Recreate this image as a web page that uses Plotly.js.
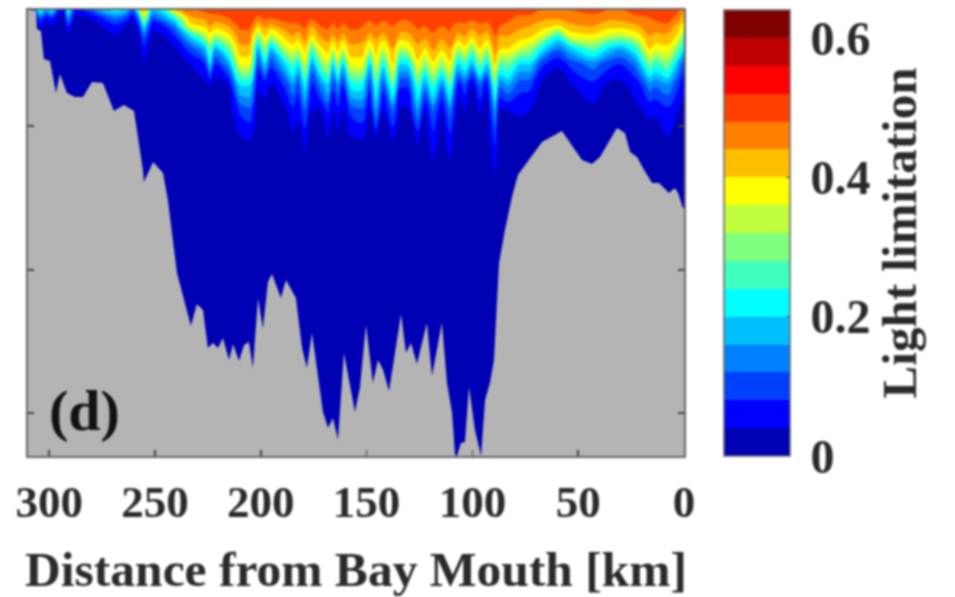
<!DOCTYPE html>
<html>
<head>
<meta charset="utf-8">
<script src="https://cdn.plot.ly/plotly-3.0.1.min.js"></script>
<style>
html,body{margin:0;padding:0;background:#fff}
#chart{width:955px;height:597px;filter:blur(0.8px)}
</style>
</head>
<body>
<div id="chart"></div>
<script>
// Along-channel distance of each station (km from the bay mouth)
const stationKm = [310,306.2,304.3,301.5,298.7,294.9,293,291.1,287.8,280.7,276,268.9,264.2,260.4,258,255.2,251.4,246.2,240.5,233.5,226.4,224,221.6,215.5,209.8,205.1,201.3,198,195.2,188.6,184.8,182.4,179.1,175.8,172,168.2,165.9,163.5,161.2,157.8,154.5,151.7,148.4,145.6,142.2,137.5,134.2,130.4,125.7,122.4,118.6,114.4,110.6,106.8,103.5,100.2,96.4,93.1,89.3,87,83.2,77.5,72.8,67.1,59.5,53.9,43,36.4,30.2,23.2,20.8,16.1,13.7,7.6,2.8,0];
// Depth levels of the profile values (relative depth units; the axis has no labels)
const depthLevels = [0,8,16,26,38,54,74,100,130,170];
// Light limitation profile at each station, surface to depth
const profiles = [
[.05,.03,.02,.01,.01,.005,.005,.005,.005,.005],
[.12,.03,.02,.01,.01,.005,.005,.005,.005,.005],
[.24,.12,.05,.02,.01,.005,.005,.005,.005,.005],
[.17,.05,.03,.01,.01,.005,.005,.005,.005,.005],
[.22,.09,.04,.02,.01,.005,.005,.005,.005,.005],
[.05,.02,.01,.01,.01,.005,.005,.005,.005,.005],
[.05,.03,.01,.01,.01,.005,.005,.005,.005,.005],
[.26,.16,.08,.03,.01,.005,.005,.005,.005,.005],
[.06,.03,.01,.01,.01,.005,.005,.005,.005,.005],
[.1,.04,.02,.01,.01,.005,.005,.005,.005,.005],
[.17,.07,.035,.015,.01,.005,.005,.005,.005,.005],
[.22,.13,.07,.035,.01,.005,.005,.005,.005,.005],
[.2,.1,.04,.02,.01,.005,.005,.005,.005,.005],
[.12,.05,.02,.01,.01,.005,.005,.005,.005,.005],
[.25,.12,.06,.03,.01,.005,.005,.005,.005,.005],
[.44,.36,.22,.12,.07,.04,.01,.005,.005,.005],
[.18,.1,.05,.03,.01,.005,.005,.005,.005,.005],
[.22,.15,.07,.035,.01,.005,.005,.005,.005,.005],
[.42,.24,.14,.08,.04,.01,.005,.005,.005,.005],
[.47,.43,.38,.2,.1,.04,.015,.005,.005,.005],
[.49,.45,.41,.33,.18,.08,.03,.01,.005,.005],
[.49,.47,.44,.38,.3,.2,.045,.015,.005,.005],
[.5,.46,.42,.33,.17,.07,.025,.01,.005,.005],
[.5,.48,.44,.38,.28,.15,.04,.015,.005,.005],
[.515,.505,.49,.46,.43,.37,.21,.09,.03,.01],
[.515,.505,.49,.46,.43,.37,.21,.11,.04,.015],
[.5,.47,.41,.3,.17,.09,.045,.02,.01,.005],
[.505,.49,.45,.4,.34,.2,.06,.025,.01,.005],
[.505,.48,.43,.34,.18,.09,.04,.02,.01,.005],
[.515,.5,.46,.41,.35,.2,.09,.03,.01,.005],
[.515,.5,.47,.44,.38,.27,.16,.07,.03,.01],
[.515,.5,.47,.42,.35,.21,.1,.05,.02,.01],
[.515,.505,.49,.46,.42,.36,.23,.12,.05,.02],
[.515,.49,.44,.39,.28,.15,.07,.04,.02,.01],
[.515,.5,.48,.44,.39,.28,.14,.04,.02,.01],
[.515,.505,.49,.46,.42,.35,.21,.09,.035,.015],
[.515,.5,.47,.43,.36,.2,.09,.04,.02,.01],
[.515,.505,.49,.46,.42,.34,.16,.07,.03,.01],
[.515,.5,.47,.43,.35,.19,.08,.035,.015,.005],
[.515,.505,.49,.46,.43,.37,.22,.09,.03,.01],
[.515,.505,.49,.46,.43,.38,.24,.11,.035,.01],
[.515,.5,.48,.46,.42,.38,.22,.11,.04,.015],
[.515,.49,.46,.43,.35,.19,.09,.04,.02,.01],
[.515,.5,.48,.45,.42,.38,.27,.16,.035,.01],
[.515,.49,.46,.43,.35,.22,.1,.035,.015,.005],
[.515,.5,.48,.46,.44,.41,.29,.13,.04,.015],
[.515,.49,.46,.43,.34,.2,.09,.03,.015,.005],
[.515,.49,.46,.43,.37,.21,.09,.035,.015,.005],
[.515,.505,.49,.46,.43,.39,.27,.16,.045,.015],
[.515,.5,.48,.45,.4,.3,.15,.04,.02,.01],
[.515,.505,.5,.47,.45,.39,.27,.13,.06,.02],
[.515,.5,.48,.45,.41,.31,.14,.04,.02,.01],
[.515,.505,.49,.47,.44,.39,.28,.14,.06,.02],
[.515,.5,.46,.43,.34,.2,.06,.02,.01,.005],
[.515,.5,.47,.44,.39,.26,.11,.04,.02,.01],
[.515,.49,.45,.41,.3,.17,.04,.02,.01,.005],
[.515,.5,.47,.44,.4,.3,.13,.045,.02,.01],
[.515,.5,.46,.42,.34,.2,.05,.02,.01,.005],
[.515,.505,.5,.48,.46,.41,.29,.16,.09,.03],
[.515,.5,.48,.44,.41,.28,.13,.03,.015,.005],
[.505,.49,.47,.44,.4,.29,.17,.04,.02,.01],
[.5,.47,.45,.42,.36,.2,.1,.045,.02,.01],
[.5,.47,.44,.41,.33,.2,.095,.04,.015,.005],
[.47,.45,.42,.36,.22,.09,.03,.015,.005,.005],
[.48,.45,.39,.24,.13,.045,.02,.01,.005,.005],
[.48,.46,.43,.37,.19,.09,.035,.015,.005,.005],
[.49,.47,.44,.39,.28,.14,.07,.03,.01,.005],
[.48,.45,.42,.35,.21,.1,.035,.015,.005,.005],
[.47,.45,.42,.33,.17,.08,.03,.015,.005,.005],
[.5,.47,.43,.37,.24,.13,.055,.03,.01,.005],
[.5,.47,.44,.39,.3,.18,.08,.035,.01,.005],
[.5,.48,.47,.44,.41,.3,.15,.05,.02,.01],
[.51,.49,.46,.43,.38,.25,.13,.045,.02,.005],
[.515,.5,.47,.43,.39,.3,.16,.07,.035,.01],
[.49,.46,.42,.39,.3,.17,.09,.04,.02,.005],
[.44,.42,.38,.28,.21,.1,.05,.025,.01,.005]
];
// Channel bottom
const bottomKm = [310,310,306.2,305.8,303.9,302.5,299.6,296.8,294.9,291.6,287.8,284,279.8,274.6,269.4,264.7,259.9,255.7,255.2,250.9,246.2,243.9,239.6,233,230.2,227.3,225,222.6,220.2,217.9,215,213.1,210.3,207.9,205.6,203.7,201.3,199,196.6,194.7,190.5,188.1,183.4,180.5,178.2,175.8,170.6,168.2,165.9,163.5,160.7,155.5,153.1,150.3,147,144.6,142.2,139.4,133.7,131.4,129,126.2,121.5,119.1,114.4,112,109.6,108.2,107.3,105.4,103.5,101.6,98.8,95.9,94,91.7,89.8,88.4,87.4,84.6,81.3,78.5,76.1,67.1,57.7,53.9,48.2,43.5,39.7,31.7,27.9,25.5,22.2,19.4,15.1,11.8,7.1,4.3,2.8,0.5,0,0,310];
const bottomDepth = [0,0,1,19,21,49,51,83,64,83,87,87,72,73,101,95,101,160,172,152,163,190,263,316,294,300,338,333,338,328,350,334,351,335,332,358,288,319,272,264,288,270,288,338,358,323,402,418,408,430,343,402,377,315,373,350,360,381,304,343,333,354,313,366,313,373,403,445,446,433,432,377,420,446,390,373,350,293,253,220,187,165,158,132,121,133,150,154,147,118,123,142,147,158,173,173,183,178,183,198,198,446,446];
const xTickVals = [300,250,200,150,100,50,0];
const xTickText = ['<b>300</b>','<b>250</b>','<b>200</b>','<b>150</b>','<b>100</b>','<b>50</b>','<b>0</b>'];
const yTickVals = [116,260,403];
const levelColors = ['#0000b4','#0000ff','#0040ff','#0080ff','#00bfff','#00ffff','#40ffbf','#80ff80','#bfff40','#ffff00','#ffbf00','#ff8000','#ff4000','#ff0000','#bf0000','#800000'];
const barTickVals = [0,0.2,0.4,0.6];
const barTickText = ['\u2009<b>0</b>','\u2009<b>0.2</b>','\u2009<b>0.4</b>','\u2009<b>0.6</b>&nbsp;\u2009'];

const serif = '"Liberation Serif","Times New Roman",serif';
const zRows = depthLevels.map((_, j) => profiles.map(p => p[j]));
const colorscale = [];
levelColors.forEach((c, i) => {
  colorscale.push([i / levelColors.length, c]);
  colorscale.push([(i + 1) / levelColors.length, c]);
});

const traces = [
  {
    type: 'contour', x: stationKm, y: depthLevels, z: zRows,
    zmin: 0, zmax: 0.64, autocontour: false,
    contours: {start: 0, end: 0.64, size: 0.04, coloring: 'fill', showlines: false},
    line: {width: 0}, colorscale: colorscale, hoverinfo: 'skip',
    colorbar: {
      x: 1.061, xanchor: 'left', xpad: 0, y: 0, yanchor: 'bottom', ypad: 0,
      len: 1, lenmode: 'fraction', thickness: 66, thicknessmode: 'pixels',
      outlinecolor: '#666', outlinewidth: 1.5, tickmode: 'array',
      tickvals: barTickVals, ticktext: barTickText, ticks: 'inside', ticklen: 4, tickcolor: '#444',
      tickfont: {family: serif, size: 48, color: '#2a2a2a'},
      title: {text: '<b>Light limitation</b>', side: 'right', font: {family: serif, size: 49, color: '#2a2a2a'}}
    }
  },
  {
    type: 'scatter', mode: 'lines', x: bottomKm, y: bottomDepth, fill: 'toself',
    fillcolor: '#b4b4b4', line: {width: 0, color: '#b4b4b4'}, hoverinfo: 'skip', showlegend: false
  }
];

const layout = {
  width: 955, height: 597,
  margin: {l: 28, r: 271, t: 10, b: 141},
  paper_bgcolor: '#ffffff', plot_bgcolor: '#0000b4',
  showlegend: false,
  font: {family: serif, color: '#2a2a2a'},
  xaxis: {
    range: [310, 0], tickmode: 'array', tickvals: xTickVals, ticktext: xTickText,
    ticks: 'inside', ticklen: 6, tickcolor: '#444', tickwidth: 1.5,
    showline: true, linecolor: '#666', linewidth: 2, mirror: true,
    showgrid: false, zeroline: false, layer: 'above traces', ticklabelstandoff: 5,
    tickfont: {family: serif, size: 45, color: '#2a2a2a'},
    title: {text: '<b>Distance from Bay Mouth [km]</b>', standoff: 29, font: {family: serif, size: 49.5, color: '#2a2a2a'}}
  },
  yaxis: {
    range: [446, 0], tickmode: 'array', tickvals: yTickVals, ticktext: ['', '', ''],
    ticks: 'inside', ticklen: 6, tickcolor: '#444', tickwidth: 1.5,
    showline: true, linecolor: '#666', linewidth: 2, mirror: 'ticks',
    showgrid: false, zeroline: false, layer: 'above traces'
  },
  annotations: [{
    xref: 'x', yref: 'y', x: 283.5, y: 400, text: '<b>(d)</b>', showarrow: false,
    font: {family: serif, size: 58, color: '#111'}
  }]
};

Plotly.newPlot('chart', traces, layout, {displayModeBar: false, staticPlot: true});
</script>
</body>
</html>
